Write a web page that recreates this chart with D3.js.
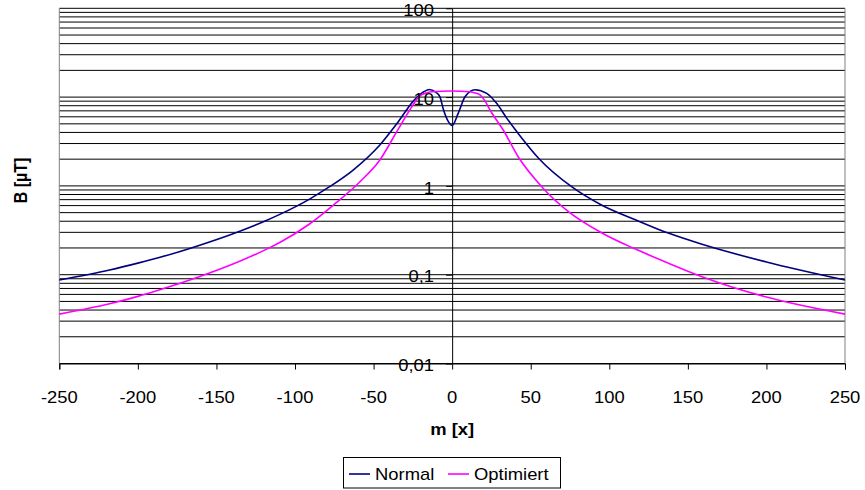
<!DOCTYPE html>
<html><head><meta charset="utf-8">
<script src="https://cdn.jsdelivr.net/npm/d3@7"></script>
<style>body{margin:0;background:#fff}svg{display:block}text{font-family:"Liberation Sans",Arial,sans-serif}</style>
</head><body><svg id="c" width="865" height="490"></svg>
<script>
const normalX = [-250,-218,-200,-187,-165,-136,-119,-110,-91,-78,-63,-46,-35,-24,-18,-14.5,-10,-7.7,-5.6,-2.4,0,3.9,8.2,14.5,22,28.3,34.7,43,55,76,95,117,138,159,200,250];
const normalY = [0.087,0.113,0.135,0.155,0.203,0.305,0.403,0.475,0.706,0.98,1.51,2.89,5.07,9.3,11.5,12.2,11.2,10.0,7.3,5.3,4.8,6.6,10.1,12.1,11.0,8.5,5.8,3.7,2.05,0.98,0.61,0.413,0.292,0.22,0.139,0.087];
const optX = [-250,-218,-200,-187,-161,-136,-117,-110,-91,-75,-59,-46,-34.5,-26,-21,-16,-13,0,11,14,17.7,21,24,32.5,42,57,74,95,117,138,159,200,250];
const optY = [0.036,0.047,0.057,0.067,0.095,0.140,0.198,0.229,0.37,0.62,1.1,1.96,4.3,7.6,10.2,11.2,11.5,11.7,11.5,11.2,10.6,9.0,7.2,4.26,2.13,0.98,0.513,0.297,0.193,0.134,0.095,0.056,0.036];
const xTicks = [-250,-200,-150,-100,-50,0,50,100,150,200,250];
const yTickValues = [100,10,1,0.1,0.01];
const yTickLabels = ["100","10","1","0,1","0,01"];
const seriesNames = ["Normal","Optimiert"];
const seriesColors = ["#000080","#FF00FF"];

const svg = d3.select("#c");
const L=59.3, R=845, T=8.3, B=363.5, SX=1.15;
const x = d3.scaleLinear().domain([-250,250]).range([L,R]);
const y = d3.scaleLog().domain([0.01,100]).range([B,T]);

// gridlines (major + minor)
const grid=[];
for(let d=0.01; d<100; d*=10){ for(let k=1;k<10;k++){ grid.push(+(d*k).toPrecision(3)); } }
grid.push(100);
svg.append("g").selectAll("line").data(grid).join("line")
  .attr("x1",L).attr("x2",R).attr("y1",d=>y(d)).attr("y2",d=>y(d))
  .attr("stroke","#000").attr("stroke-width",1);
// plot border sides
svg.append("line").attr("x1",L).attr("x2",L).attr("y1",T).attr("y2",B).attr("stroke","#808080");
svg.append("line").attr("x1",R).attr("x2",R).attr("y1",T).attr("y2",B).attr("stroke","#808080");

// x axis at bottom
const xa = svg.append("g").attr("transform",`translate(0,${B})`)
  .call(d3.axisBottom(x).tickValues(xTicks).tickSize(6).tickFormat(""));
xa.select(".domain").attr("stroke","#000");
xa.selectAll(".tick line").attr("stroke","#000");
// y axis at x=0
const ya = svg.append("g").attr("transform",`translate(${x(0)},0)`)
  .call(d3.axisLeft(y).tickValues(yTickValues).tickSize(6).tickSizeOuter(0).tickFormat(""));
ya.select(".domain").attr("stroke","#000");
ya.selectAll(".tick line").attr("stroke","#000");

// curves
const line = d3.line().x(d=>x(d[0])).y(d=>y(d[1])).curve(d3.curveMonotoneX);
const series = [d3.zip(normalX,normalY), d3.zip(optX,optY)];
svg.append("g").selectAll("path").data(series).join("path")
  .attr("d",line).attr("fill","none").attr("stroke",(d,i)=>seriesColors[i]).attr("stroke-width",1.6);

// labels
function txt(xp,yp,s,anchor,bold){
  return svg.append("text").attr("transform",`translate(${xp},${yp}) scale(${SX},1)`)
    .attr("text-anchor",anchor).attr("font-size",16).attr("font-weight",bold?"bold":"normal").attr("fill","#000").text(s);
}
xTicks.forEach(v=>txt(x(v),402.5,String(v),"middle"));
yTickValues.forEach((v,i)=>txt(434,y(v)+7.7,yTickLabels[i],"end"));
txt(x(0),435,"m [x]","middle",true);
svg.append("text").attr("transform",`translate(26.5,180.5) scale(${SX},1) rotate(-90)`)
  .attr("text-anchor","middle").attr("font-size",16).attr("font-weight","bold").text("B [µT]");

// legend
svg.append("rect").attr("x",343.5).attr("y",457.5).attr("width",217).attr("height",30.5)
  .attr("fill","#fff").attr("stroke","#000").attr("stroke-width",1);
const legX=[349,448];
seriesNames.forEach((n,i)=>{
  svg.append("line").attr("x1",legX[i]).attr("x2",legX[i]+21).attr("y1",474).attr("y2",474)
    .attr("stroke",seriesColors[i]).attr("stroke-width",1.6);
  txt(legX[i]+26,479.7,n,"start");
});
</script></body></html>
